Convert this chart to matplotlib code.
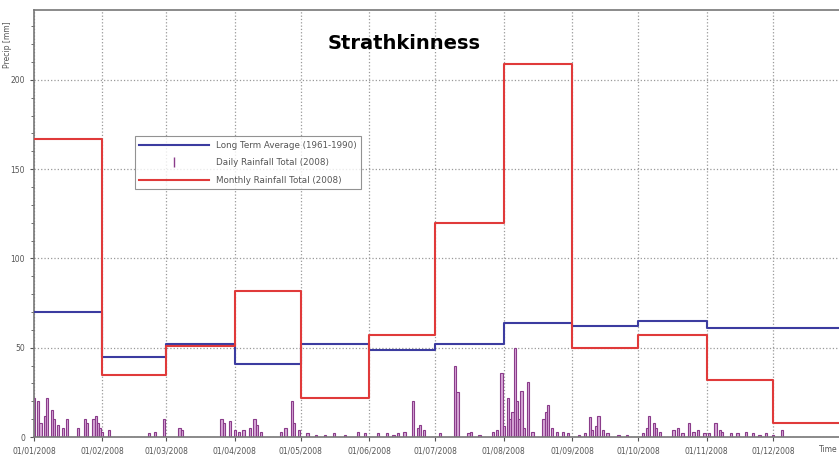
import numpy as np
import matplotlib
matplotlib.use("Agg")
import matplotlib.pyplot as plt
import matplotlib.dates as mdates
from matplotlib.ticker import MultipleLocator
from matplotlib.lines import Line2D
from datetime import date, timedelta

month_starts = [date(2008, m, 1) for m in range(1, 13)]
month_total = [167, 35, 51, 82, 22, 57, 120, 209, 50, 57, 32, 8]
long_term_avg = [70, 45, 52, 41, 52, 49, 52, 64, 62, 65, 61, 61]

# daily rainfall, day of year (0 = 1 Jan) -> mm
daily_days = [0, 2, 3, 5, 6, 8, 9, 11, 13, 15, 20, 23, 24, 27, 28, 29, 30, 31, 34,
              52, 55, 59, 66, 67,
              85, 86, 89, 91, 93, 95, 98, 100, 101, 103, 112, 114, 117, 118, 120,
              124, 128, 132, 136, 141, 147, 150,
              156, 160, 163, 165, 168, 172, 174, 175, 177,
              184, 191, 192, 197, 198, 202, 208, 210,
              212, 213, 215, 216, 217, 218, 219, 220, 221, 222, 224, 226, 231, 232, 233, 235, 237,
              240, 242, 247, 250, 252, 253, 255, 256, 258, 260, 265, 269,
              276, 278, 279, 281, 282, 284, 290, 292, 294, 297, 299, 301, 304,
              306, 309, 311, 312, 316, 319, 323, 326, 329, 332,
              335, 339]
daily_mm = [22, 20, 8, 12, 22, 15, 10, 7, 5, 10, 5, 10, 8, 10, 12, 8, 5, 3, 4,
            2, 3, 10, 5, 4,
            10, 8, 9, 4, 3, 4, 5, 10, 7, 3, 3, 5, 20, 8, 4,
            2, 1, 1, 2, 1, 3, 2,
            2, 2, 1, 2, 3, 20, 5, 7, 4,
            2, 40, 25, 2, 3, 1, 3, 4,
            36, 6, 22, 10, 14, 50, 20, 10, 26, 5, 31, 3, 10, 14, 18, 5, 3,
            3, 2, 1, 2, 11, 4, 6, 12, 4, 2, 1, 1,
            2, 5, 12, 8, 5, 3, 4, 5, 2, 8, 3, 4, 2,
            2, 8, 4, 3, 2, 2, 3, 2, 1, 2,
            1, 4]

purple = "#8a3c8a"
blue = "#3c3ca0"
red = "#e03a3a"

fig = plt.figure(figsize=(8.39, 4.62), dpi=100)
ax = fig.add_axes([0.0405, 0.054, 0.9595, 0.924])

start = date(2008, 1, 1)
end = date(2008, 12, 31)
daily_dates = [start + timedelta(days=d) for d in daily_days]
ax.bar(daily_dates, daily_mm, width=1.0, color="#d8a8d8", edgecolor=purple,
       linewidth=0.8, zorder=2)

edges = month_starts + [end]
ax.step(edges, long_term_avg + [long_term_avg[-1]], where="post", color=blue,
        lw=1.5, zorder=3)
ax.step(edges, month_total + [month_total[-1]], where="post", color=red,
        lw=1.5, zorder=4)

ax.set_xlim(start, end)
ax.set_ylim(0, 239)
ax.xaxis.set_major_locator(mdates.MonthLocator())
ax.xaxis.set_major_formatter(mdates.DateFormatter("%d/%m/%Y"))
ax.yaxis.set_major_locator(MultipleLocator(50))
ax.yaxis.set_minor_locator(MultipleLocator(10))
ax.tick_params(axis="both", labelsize=5.5, colors="#555555", length=3)
ax.tick_params(axis="y", which="minor", length=2, colors="#555555")
ax.grid(True, which="major", ls=":", color="#999999", lw=0.9)
ax.set_axisbelow(True)
ax.spines["right"].set_visible(False)
for s in ["left", "top", "bottom"]:
    ax.spines[s].set_color("#777777")
    ax.spines[s].set_linewidth(1.2)

ax.set_ylabel("Precip [mm]", fontsize=5.5, color="#555555")
ax.yaxis.set_label_coords(-0.027, 0.92)
fig.text(0.998, 0.021, "Time", fontsize=5.5, color="#555555", ha="right")

ax.set_title("Strathkinness", fontsize=14, fontweight="bold", x=0.46, y=0.89)

handles = [Line2D([], [], color=blue, lw=1.5),
           Line2D([], [], color=purple, marker="|", ls="None", markersize=7),
           Line2D([], [], color=red, lw=1.5)]
labels = ["Long Term Average (1961-1990)", "Daily Rainfall Total (2008)",
          "Monthly Rainfall Total (2008)"]
leg = ax.legend(handles, labels, loc="upper left", bbox_to_anchor=(0.12, 0.715),
                fontsize=6.3, frameon=True, fancybox=False, edgecolor="#777777",
                handlelength=8, borderpad=0.5, labelspacing=1.0)
leg.get_frame().set_linewidth(0.8)
for t in leg.get_texts():
    t.set_color("#555555")

fig.savefig("out.png", dpi=100)
